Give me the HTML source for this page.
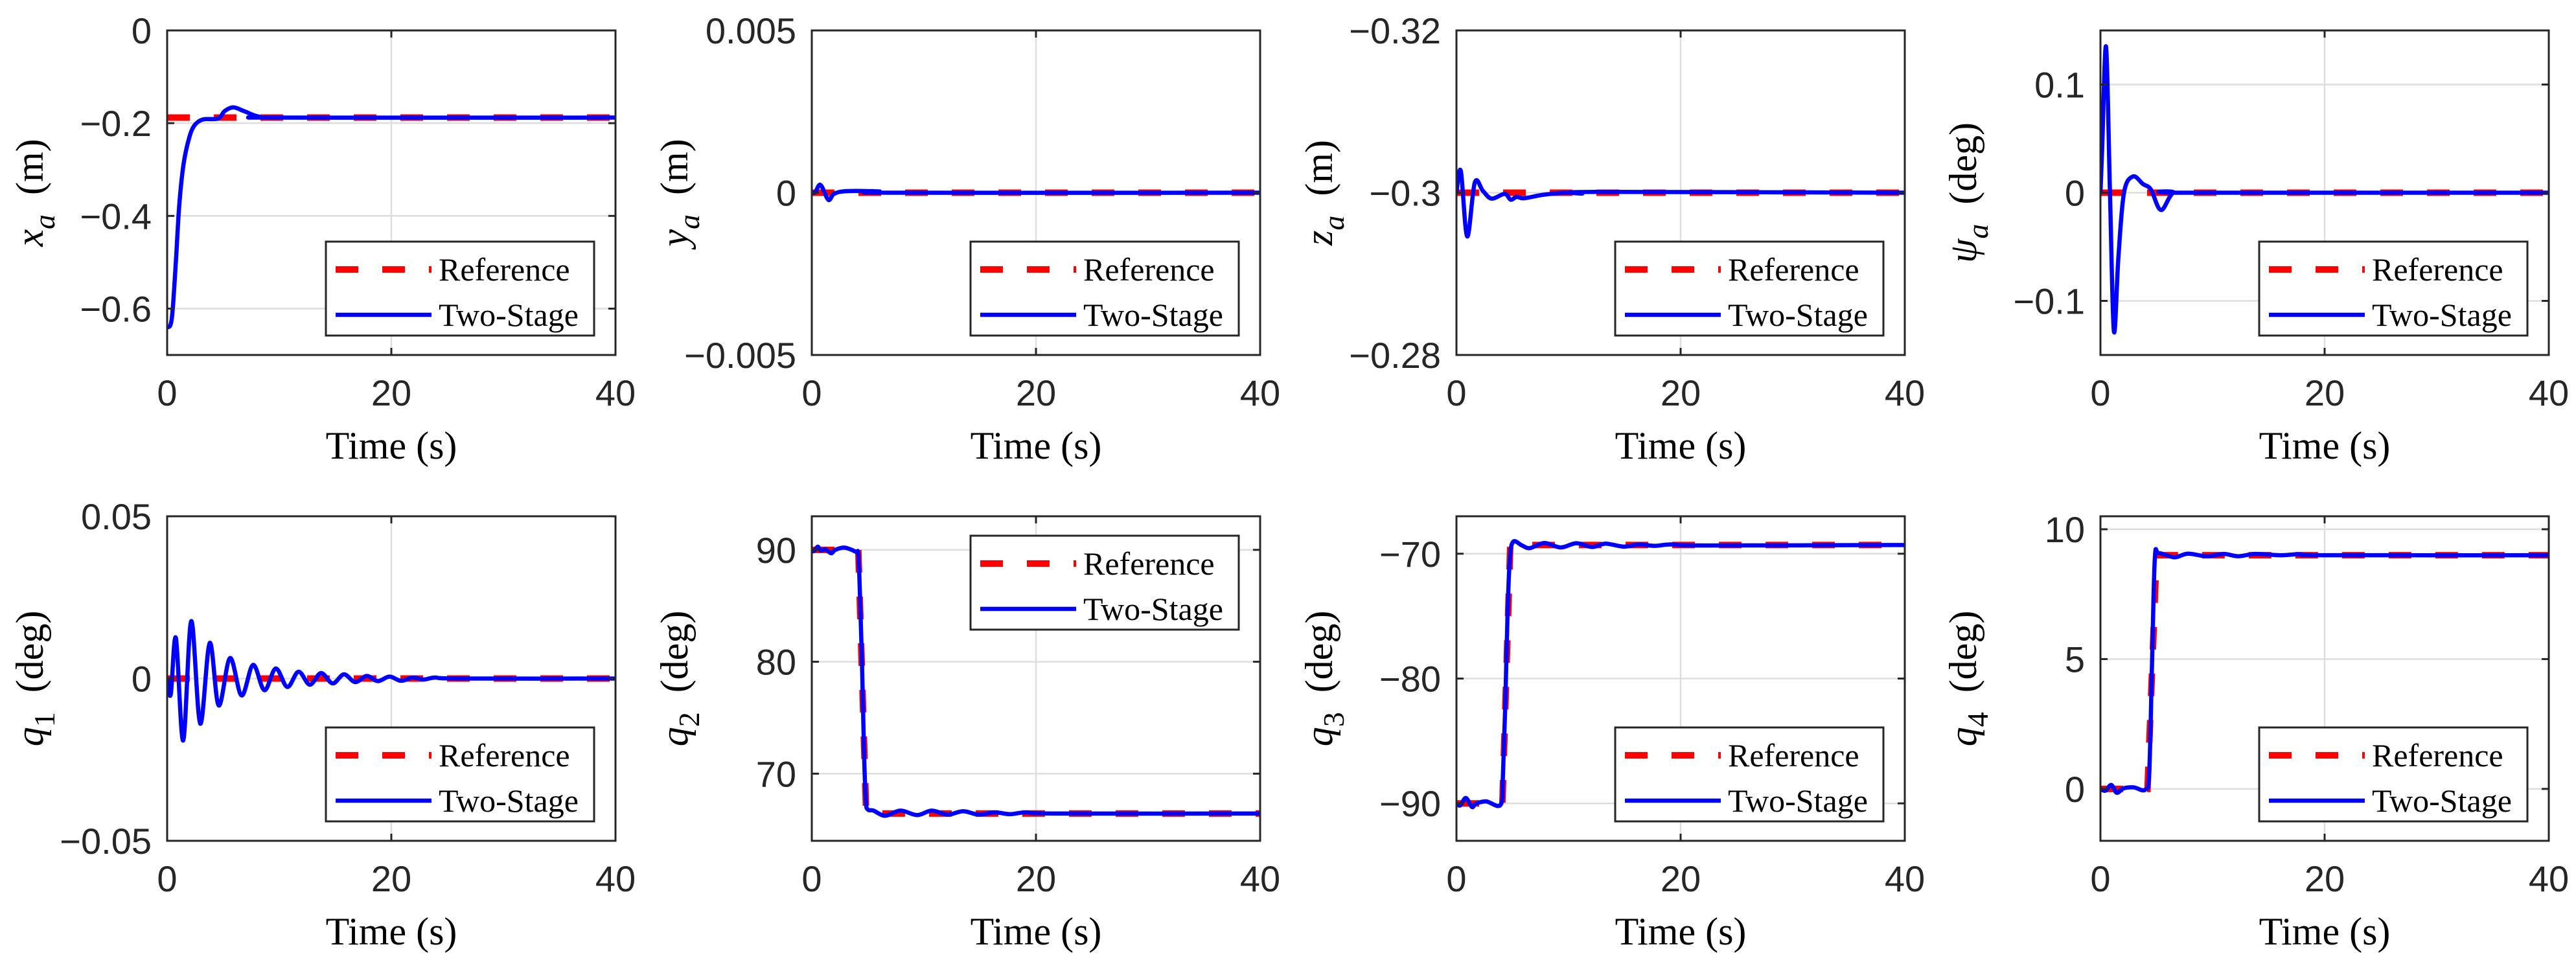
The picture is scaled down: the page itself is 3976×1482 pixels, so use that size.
<!DOCTYPE html>
<html>
<head>
<meta charset="utf-8">
<style>
html,body{margin:0;padding:0;background:#fff;}
svg{display:block;}
.tick{font-family:"Liberation Sans",Arial,sans-serif;font-size:56px;fill:#262626;}
.lab{font-family:"Liberation Serif","Times New Roman",serif;font-size:60px;fill:#000;}
.leg{font-family:"Liberation Serif","Times New Roman",serif;font-size:50px;fill:#000;}
</style>
</head>
<body>
<svg id="fig" width="3976" height="1482" viewBox="0 0 3976 1482" xmlns="http://www.w3.org/2000/svg"></svg>
<script>
// ---- data ----
const xTicks = [0, 20, 40];

const xaT = [0, 0.3, 0.5, 0.79, 1.08, 1.46, 1.95, 2.43, 3.2, 4.55, 5.13, 5.9, 6.86, 8.2, 10, 40];
const xaV = [-0.64, -0.635, -0.6, -0.494, -0.377, -0.289, -0.233, -0.205, -0.192, -0.19, -0.174, -0.166, -0.174, -0.186, -0.188, -0.188];
const xaRefT = [0, 40];
const xaRefV = [-0.188, -0.188];
const xaYTicks = [0, -0.2, -0.4, -0.6];
const xaYLabels = ["0", "\u22120.2", "\u22120.4", "\u22120.6"];

const yaT = [0, 0.31, 0.78, 1.48, 2.0, 3.17, 6.0, 7.3, 40];
const yaV = [0, 0.00002, 0.00024, -0.00022, -0.00003, 0.00005, 0.00004, 0, 0];
const yaRefT = [0, 40];
const yaRefV = [0, 0];
const yaYTicks = [0.005, 0, -0.005];
const yaYLabels = ["0.005", "0", "\u22120.005"];

const zaT = [0, 0.39, 0.96, 1.64, 2.37, 3.14, 4.3, 4.84, 5.36, 6.03, 7.76, 9.7, 11.2, 12.5, 40];
const zaV = [-0.3, -0.30267, -0.29461, -0.30126, -0.3002, -0.29927, -0.29986, -0.29914, -0.29948, -0.29932, -0.29975, -0.3, -0.2999, -0.3001, -0.3];
const zaRefT = [0, 40];
const zaRefV = [-0.3, -0.3];
const zaYTicks = [-0.32, -0.3, -0.28];
const zaYLabels = ["\u22120.32", "\u22120.3", "\u22120.28"];

const psiT = [0, 0.15, 0.5, 0.85, 1.2, 1.6, 2.1, 2.9, 3.8, 4.5, 5.4, 6.5, 8, 40];
const psiV = [0, 0.04, 0.135, 0.0, -0.128, -0.06, 0.0, 0.015, 0.008, 0.003, -0.016, 0.0, 0, 0];
const psiRefT = [0, 40];
const psiRefV = [0, 0];
const psiYTicks = [0.1, 0, -0.1];
const psiYLabels = ["0.1", "0", "\u22120.1"];

const q1T = [0, 0.32, 0.78, 1.43, 2.15, 2.95, 3.8, 4.6, 5.61, 6.64, 7.67, 8.68, 9.69, 10.72, 11.72, 12.73, 13.73, 14.77, 15.77, 16.78, 17.81, 18.79, 19.83, 20.86, 21.9, 22.9, 23.9, 26, 40];
const q1V = [0, -0.0049, 0.0125, -0.0191, 0.0177, -0.0139, 0.011, -0.0083, 0.0063, -0.0052, 0.0042, -0.0036, 0.0031, -0.0026, 0.0021, -0.0019, 0.0017, -0.0015, 0.0013, -0.0011, 0.0008, -0.0008, 0.0006, -0.0007, 0.0003, -0.0003, 0.0003, 0, 0];
const q1RefT = [0, 40];
const q1RefV = [0, 0];
const q1YTicks = [0.05, 0, -0.05];
const q1YLabels = ["0.05", "0", "\u22120.05"];

const q2T = [0, 0.26, 0.54, 0.8, 1.2, 1.73, 2.1, 2.9, 3.9, 4.15, 4.3, 4.48, 4.66, 4.82, 5.0, 5.5, 6.55, 7.9, 9.4, 10.7, 12.1, 13.5, 14.9, 16.3, 17.7, 19.1, 21.9, 40];
const q2V = [89.84, 89.95, 90.28, 89.94, 90.04, 89.7, 90.0, 90.2, 89.84, 89.54, 85.9, 79.9, 71.9, 67.6, 66.8, 66.7, 66.24, 66.7, 66.3, 66.7, 66.34, 66.64, 66.34, 66.54, 66.38, 66.54, 66.44, 66.44];
const q2RefT = [0, 4.15, 4.85, 40];
const q2RefV = [90, 90, 66.44, 66.44];
const q2YTicks = [90, 80, 70];
const q2YLabels = ["90", "80", "70"];

const q3T = [0, 0.34, 0.84, 1.38, 1.75, 2.65, 3.95, 4.15, 4.35, 4.55, 4.75, 5.05, 5.85, 6.55, 7.85, 9.3, 10.7, 12.1, 13.3, 14.9, 16.3, 17.7, 19.1, 22.3, 40];
const q3V = [-90.02, -90.16, -89.57, -90.29, -90.02, -89.84, -90.1, -87.7, -82.3, -75.1, -70.6, -69.05, -69.34, -69.55, -69.14, -69.5, -69.16, -69.46, -69.19, -69.43, -69.26, -69.37, -69.26, -69.34, -69.3];
const q3RefT = [0, 4.1, 4.8, 40];
const q3RefV = [-90, -90, -69.3, -69.3];
const q3YTicks = [-70, -80, -90];
const q3YLabels = ["\u221270", "\u221280", "\u221290"];

const q4T = [0, 0.43, 0.97, 1.45, 2.06, 2.96, 4.0, 4.35, 4.6, 4.85, 5.2, 6.6, 7.8, 9.5, 11, 12.3, 13.8, 16, 17.8, 20, 40];
const q4V = [0, -0.07, 0.15, -0.15, 0.02, 0.06, -0.03, 0.63, 4.8, 8.85, 9.08, 8.92, 9.06, 8.96, 9.05, 8.96, 9.05, 9.0, 9.04, 9.0, 9.0];
const q4RefT = [0, 4.2, 5.0, 40];
const q4RefV = [0, 0, 9, 9];
const q4YTicks = [10, 5, 0];
const q4YLabels = ["10", "5", "0"];

// ---- layout ----
const NS = "http://www.w3.org/2000/svg";
const svg = document.getElementById('fig');
const colL = [258, 1253, 2248, 3242];
const rowT = [47, 797];
const W = 692, H = 501;

function mk(tag, attrs, parent) {
  const e = document.createElementNS(NS, tag);
  for (const k in attrs) e.setAttribute(k, attrs[k]);
  (parent || svg).appendChild(e);
  return e;
}

function smoothPath(pts) {
  let d = 'M' + pts[0][0].toFixed(2) + ',' + pts[0][1].toFixed(2);
  for (let i = 0; i < pts.length - 1; i++) {
    const p0 = pts[Math.max(0, i - 1)], p1 = pts[i], p2 = pts[i + 1], p3 = pts[Math.min(pts.length - 1, i + 2)];
    const c1x = p1[0] + (p2[0] - p0[0]) / 6, c1y = p1[1] + (p2[1] - p0[1]) / 6;
    const c2x = p2[0] - (p3[0] - p1[0]) / 6, c2y = p2[1] - (p3[1] - p1[1]) / 6;
    d += 'C' + c1x.toFixed(2) + ',' + c1y.toFixed(2) + ' ' + c2x.toFixed(2) + ',' + c2y.toFixed(2) + ' ' + p2[0].toFixed(2) + ',' + p2[1].toFixed(2);
  }
  return d;
}

const panels = [
  {key:'xa', c:0, r:0, yTopV:0, yBotV:-0.7, T:xaT, V:xaV, RT:xaRefT, RV:xaRefV, yt:xaYTicks, yl:xaYLabels, sym:'x', sub:'a', subItal:true, unit:'(m)', leg:'br'},
  {key:'ya', c:1, r:0, yTopV:0.005, yBotV:-0.005, T:yaT, V:yaV, RT:yaRefT, RV:yaRefV, yt:yaYTicks, yl:yaYLabels, sym:'y', sub:'a', subItal:true, unit:'(m)', leg:'br'},
  {key:'za', c:2, r:0, yTopV:-0.32, yBotV:-0.28, T:zaT, V:zaV, RT:zaRefT, RV:zaRefV, yt:zaYTicks, yl:zaYLabels, sym:'z', sub:'a', subItal:true, unit:'(m)', leg:'br'},
  {key:'psi', c:3, r:0, yTopV:0.15, yBotV:-0.15, T:psiT, V:psiV, RT:psiRefT, RV:psiRefV, yt:psiYTicks, yl:psiYLabels, sym:'\u03C8', sub:'a', subItal:true, unit:'(deg)', leg:'br'},
  {key:'q1', c:0, r:1, yTopV:0.05, yBotV:-0.05, T:q1T, V:q1V, RT:q1RefT, RV:q1RefV, yt:q1YTicks, yl:q1YLabels, sym:'q', sub:'1', subItal:false, unit:'(deg)', leg:'br'},
  {key:'q2', c:1, r:1, yTopV:93, yBotV:64, T:q2T, V:q2V, RT:q2RefT, RV:q2RefV, yt:q2YTicks, yl:q2YLabels, sym:'q', sub:'2', subItal:false, unit:'(deg)', leg:'tr'},
  {key:'q3', c:2, r:1, yTopV:-67, yBotV:-93, T:q3T, V:q3V, RT:q3RefT, RV:q3RefV, yt:q3YTicks, yl:q3YLabels, sym:'q', sub:'3', subItal:false, unit:'(deg)', leg:'br'},
  {key:'q4', c:3, r:1, yTopV:10.5, yBotV:-2, T:q4T, V:q4V, RT:q4RefT, RV:q4RefV, yt:q4YTicks, yl:q4YLabels, sym:'q', sub:'4', subItal:false, unit:'(deg)', leg:'br'}
];

panels.forEach(p => {
  const L = colL[p.c], T = rowT[p.r], R = L + W, B = T + H;
  const xS = t => L + (t - 0) / 40 * W;
  const yS = v => T + (v - p.yTopV) / (p.yBotV - p.yTopV) * H;

  const g = mk('g', {});
  
  

  const cp = mk('clipPath', {id: 'clip-' + p.key}, g);
  mk('rect', {x: L, y: T, width: W, height: H}, cp);

  const grid = mk('g', {}, g);
  
  
  xTicks.forEach(t => {
    const x = xS(t);
    if (x > L + 2 && x < R - 2) {
      const ln = mk('line', {x1: x, x2: x, y1: T, y2: B, stroke: '#dedede', 'stroke-width': 2.5}, grid);
      
      
    }
  });
  p.yt.forEach(v => {
    const y = yS(v);
    if (y > T + 2 && y < B - 2) {
      const ln = mk('line', {x1: L, x2: R, y1: y, y2: y, stroke: '#dedede', 'stroke-width': 2.5}, grid);
      
      
    }
  });

  const sg = mk('g', {'clip-path': 'url(#clip-' + p.key + ')'}, g);
  const refPts = p.RT.map((t, i) => xS(t).toFixed(2) + ',' + yS(p.RV[i]).toFixed(2)).join(' ');
  const ref = mk('polyline', {points: refPts, fill: 'none', stroke: '#ff0000', 'stroke-width': 10, 'stroke-dasharray': '35 37'}, sg);
  
  
  const bpts = p.T.map((t, i) => [xS(t), yS(p.V[i])]);
  const blue = mk('path', {d: smoothPath(bpts), fill: 'none', stroke: '#0000ff', 'stroke-width': 6.5, 'stroke-linejoin': 'round', 'stroke-linecap': 'round'}, sg);
  
  

  const box = mk('rect', {x: L, y: T, width: W, height: H, fill: 'none', stroke: '#262626', 'stroke-width': 3}, g);
  
  

  xTicks.forEach(t => {
    const x = xS(t);
    mk('line', {x1: x, x2: x, y1: B, y2: B - 11, stroke: '#262626', 'stroke-width': 3}, g);
    mk('line', {x1: x, x2: x, y1: T, y2: T + 11, stroke: '#262626', 'stroke-width': 3}, g);
    const tx = mk('text', {x: x, y: B + 78, 'text-anchor': 'middle', class: 'tick'}, g);
    tx.textContent = String(t);
    
    
  });
  p.yt.forEach((v, i) => {
    const y = yS(v);
    mk('line', {x1: L, x2: L + 11, y1: y, y2: y, stroke: '#262626', 'stroke-width': 3}, g);
    mk('line', {x1: R, x2: R - 11, y1: y, y2: y, stroke: '#262626', 'stroke-width': 3}, g);
    const ty = mk('text', {x: L - 24, y: y + 20, 'text-anchor': 'end', class: 'tick'}, g);
    ty.textContent = p.yl[i];
    
    
  });

  const xl = mk('text', {x: L + W / 2, y: B + 160, 'text-anchor': 'middle', class: 'lab'}, g);
  xl.textContent = 'Time (s)';
  
  

  const cx = L - 212, cy = T + H / 2;
  const yl = mk('text', {x: 0, y: 0, 'text-anchor': 'middle', class: 'lab', transform: 'translate(' + (cx + 20) + ',' + cy + ') rotate(-90)'}, g);
  
  
  const s1 = mk('tspan', {'font-style': 'italic'}, yl); s1.textContent = p.sym;
  const s2 = mk('tspan', {dy: 18, 'font-size': '46px', 'font-style': p.subItal ? 'italic' : 'normal'}, yl); s2.textContent = p.sub;
  const s3 = mk('tspan', {dy: -18}, yl); s3.textContent = '\u00A0\u00A0' + p.unit;

  const lw = 414, lh = 145;
  const lx = R - 33 - lw;
  const ly = p.leg === 'tr' ? T + 30 : B - 30 - lh;
  const lg = mk('g', {}, g);
  
  
  mk('rect', {x: lx, y: ly, width: lw, height: lh, fill: '#fff', stroke: '#262626', 'stroke-width': 3}, lg);
  const e1 = mk('line', {x1: lx + 15, x2: lx + 163, y1: ly + 43, y2: ly + 43, stroke: '#ff0000', 'stroke-width': 10, 'stroke-dasharray': '35 37'}, lg);
  
  
  const t1 = mk('text', {x: lx + 174, y: ly + 60, class: 'leg'}, lg); t1.textContent = 'Reference';
  const e2 = mk('line', {x1: lx + 15, x2: lx + 163, y1: ly + 113, y2: ly + 113, stroke: '#0000ff', 'stroke-width': 6.5}, lg);
  
  
  const t2 = mk('text', {x: lx + 174, y: ly + 130, class: 'leg'}, lg); t2.textContent = 'Two-Stage';
});
</script>
</body>
</html>
